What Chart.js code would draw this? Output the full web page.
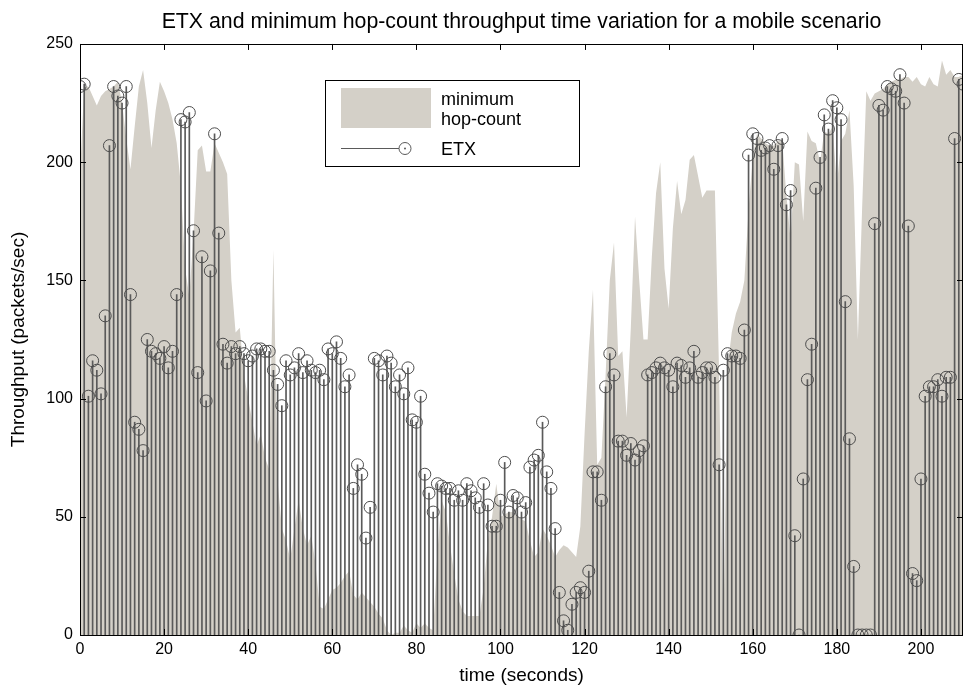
<!DOCTYPE html>
<html>
<head>
<meta charset="utf-8">
<script src="https://cdn.jsdelivr.net/npm/chart.js@4.4.1/dist/chart.umd.min.js"></script>
<style>
  html, body { margin: 0; padding: 0; background: #fff; }
  #wrap { width: 964px; height: 688px; }
</style>
</head>
<body>
<div id="wrap"><canvas id="etxChart" width="964" height="688"></canvas></div>
<script>
// throughput in packets/sec, one sample per second (t = 0..210)
const etxThroughput = [
  232, 233, 101, 116, 112, 102, 135, 207, 232, 228, 225, 232, 144, 90, 87, 78, 125, 120, 119, 117,
  122, 113, 120, 144, 218, 217, 221, 171, 111, 160, 99, 154, 212, 170,
  123, 115, 122, 119, 122, 119, 116, 118, 121, 121, 120, 120, 112, 106, 97, 116, 110, 113, 119, 111,
  116, 112, 111, 112, 108, 121, 119, 124, 117, 105, 110,
  62, 72, 68, 41, 54, 117, 116, 110, 118, 115, 105, 110, 102, 113, 91, 90, 101, 68, 60, 52,
  64, 63, 62, 62, 57, 61, 57, 64, 61, 58, 54, 64, 55, 46, 46, 57, 73, 52,
  59, 58, 52, 56, 71, 74, 76, 90, 69, 62, 45, 18, 6, 2, 13, 18, 20, 18, 27, 69,
  69, 57, 105, 119, 110, 82, 82, 76, 81, 74, 78, 80,
  110, 111, 113, 115, 113, 112, 105, 115, 114, 109, 113, 120, 109, 111, 113, 113, 109, 72, 112, 119,
  118, 118, 117, 129, 203, 212, 210, 205, 206, 207, 197, 207, 210,
  182, 188, 42, 0, 66, 108, 123, 189, 202, 220, 214, 226, 223, 218, 141, 83, 29, 0, 0, 0,
  0, 174, 224, 222, 232, 231, 230, 237, 225, 173, 26, 23, 66, 101, 105, 105, 108, 101, 109, 109,
  210, 235, 233
];

const hopThroughput = [
  195, 232, 232, 228, 224, 228, 230, 231, 232, 234, 225, 210, 197, 215, 232, 239, 225, 206, 222, 234,
  230, 225, 218, 208, 190, 155, 143, 170, 205, 207, 196, 196, 208, 204, 200, 195,
  150, 128, 130, 110, 100, 90, 80, 85, 75, 70, 163, 65, 45, 40, 32, 45, 57, 45, 38, 42,
  30, 12, 11, 15, 19, 20, 22, 25, 27, 17, 15, 18, 16, 14,
  12, 9, 7, 2, 0, 1, 1, 4, 2, 1, 5, 3, 5, 3, 2, 35, 57, 52, 38, 26,
  15, 10, 8, 8, 8, 8, 20, 40, 50, 64, 50, 51, 52, 52, 50, 49, 48, 40, 33, 35,
  45, 42, 38, 33, 36, 38,
  37, 35, 33, 46, 85, 120, 146, 72, 75, 110, 150, 166, 118, 120, 92, 130, 177, 150, 125, 125,
  160, 187, 200, 155, 138, 172, 192, 178, 184, 201, 203, 194, 185, 188, 188, 188, 110, 0, 113, 128,
  136, 141, 150, 180, 202, 212,
  210, 208, 207, 207, 209, 209, 186, 167, 200, 199, 175, 213, 209, 208, 200, 213, 212, 215, 190, 209,
  212, 222, 190, 125, 180, 230, 226, 229, 230, 231, 233, 234, 235, 235, 236, 236, 234, 236, 233, 232,
  236, 233, 232, 243, 237, 239, 236, 236, 237
];

const seconds = etxThroughput.map((_, i) => i);
const seriesNames = ['minimum hop-count', 'ETX'];
const hopColor = '#d4d0c8';
const stemColor = '#5a5a5a';

const etxPts = seconds.map((t, i) => ({ x: t, y: etxThroughput[i] }));
const hopPts = seconds.map((t, i) => ({ x: t, y: hopThroughput[i] }));

Chart.defaults.font.family = '"Liberation Sans", Arial, Helvetica, sans-serif';
Chart.defaults.color = '#000';

// matlab style box, inward ticks and legend inside the axes
const matlabBox = {
  id: 'matlabBox',
  afterDraw(chart) {
    const { ctx, chartArea: a, scales: { x, y } } = chart;
    ctx.save();
    ctx.strokeStyle = '#000';
    ctx.lineWidth = 1;
    ctx.beginPath();
    x.ticks.forEach(t => {
      const px = Math.round(x.getPixelForValue(t.value)) + 0.5;
      ctx.moveTo(px, a.bottom); ctx.lineTo(px, a.bottom - 6);
      ctx.moveTo(px, a.top); ctx.lineTo(px, a.top + 6);
    });
    y.ticks.forEach(t => {
      const py = Math.round(y.getPixelForValue(t.value)) + 0.5;
      ctx.moveTo(a.left, py); ctx.lineTo(a.left + 6, py);
      ctx.moveTo(a.right, py); ctx.lineTo(a.right - 6, py);
    });
    ctx.stroke();
    ctx.strokeRect(Math.round(a.left) + 0.5, Math.round(a.top) + 0.5,
      Math.round(a.right - a.left) - 1, Math.round(a.bottom - a.top));

    // legend
    const lx = Math.round(a.left) + 245, ly = Math.round(a.top) + 36;
    ctx.fillStyle = '#fff';
    ctx.fillRect(lx, ly, 254, 86);
    ctx.strokeRect(lx + 0.5, ly + 0.5, 254, 86);
    ctx.fillStyle = hopColor;
    ctx.fillRect(lx + 16, ly + 8, 90, 40);
    ctx.strokeStyle = stemColor;
    ctx.beginPath();
    ctx.moveTo(lx + 16, ly + 68.5); ctx.lineTo(lx + 74, ly + 68.5);
    ctx.stroke();
    ctx.beginPath();
    ctx.arc(lx + 80, ly + 68.5, 6, 0, Math.PI * 2);
    ctx.stroke();
    ctx.fillStyle = stemColor;
    ctx.beginPath();
    ctx.arc(lx + 80, ly + 68.5, 1, 0, Math.PI * 2);
    ctx.fill();
    ctx.fillStyle = '#000';
    ctx.font = '18px "Liberation Sans", Arial, sans-serif';
    ctx.textBaseline = 'alphabetic';
    ctx.fillText('minimum', lx + 116, ly + 25);
    ctx.fillText('hop-count', lx + 116, ly + 45);
    ctx.fillText(seriesNames[1], lx + 116, ly + 75);
    ctx.restore();
  }
};

new Chart(document.getElementById('etxChart'), {
  type: 'bar',
  data: {
    datasets: [
      {
        type: 'line',
        label: seriesNames[0],
        data: hopPts,
        fill: 'origin',
        backgroundColor: hopColor,
        borderWidth: 0,
        pointRadius: 0,
        tension: 0,
        order: 3
      },
      {
        type: 'bar',
        label: 'ETX stems',
        data: etxPts,
        backgroundColor: stemColor,
        barThickness: 1,
        order: 2
      },
      {
        type: 'line',
        label: seriesNames[1],
        data: etxPts,
        showLine: false,
        pointRadius: 6,
        pointBorderWidth: 1,
        pointBorderColor: '#4d4d4d',
        pointBackgroundColor: 'rgba(0,0,0,0)',
        order: 1
      }
    ]
  },
  plugins: [matlabBox],
  options: {
    responsive: false,
    animation: false,
    layout: { autoPadding: false, padding: { left: 0, right: 1, top: 0, bottom: 0 } },
    plugins: {
      legend: { display: false },
      tooltip: { enabled: false },
      title: {
        display: true,
        text: 'ETX and minimum hop-count throughput time variation for a mobile scenario',
        font: { size: 21.3, weight: 'normal' },
        color: '#000',
        padding: { top: 9, bottom: 9.4 },
        fullSize: false
      }
    },
    scales: {
      x: {
        type: 'linear',
        min: 0,
        max: 210,
        offset: false,
        grid: { display: false, drawTicks: false, tickLength: 0, offset: false },
        border: { display: false },
        ticks: { stepSize: 20, includeBounds: false, font: { size: 16 }, padding: 5, maxRotation: 0 },
        title: { display: true, text: 'time (seconds)', font: { size: 19 }, padding: { top: 0, bottom: 1 } },
        afterFit(s) { s.height = 53; s.paddingRight = 0; s.paddingLeft = 0; }
      },
      y: {
        min: 0,
        max: 250,
        grid: { display: false, drawTicks: false, tickLength: 0 },
        border: { display: false },
        ticks: { stepSize: 50, font: { size: 16 }, padding: 7 },
        title: { display: true, text: 'Throughput (packets/sec)', font: { size: 19 }, padding: { top: 7.5, bottom: 0 } },
        afterFit(s) { s.width = 80; }
      }
    }
  }
});
</script>
</body>
</html>
